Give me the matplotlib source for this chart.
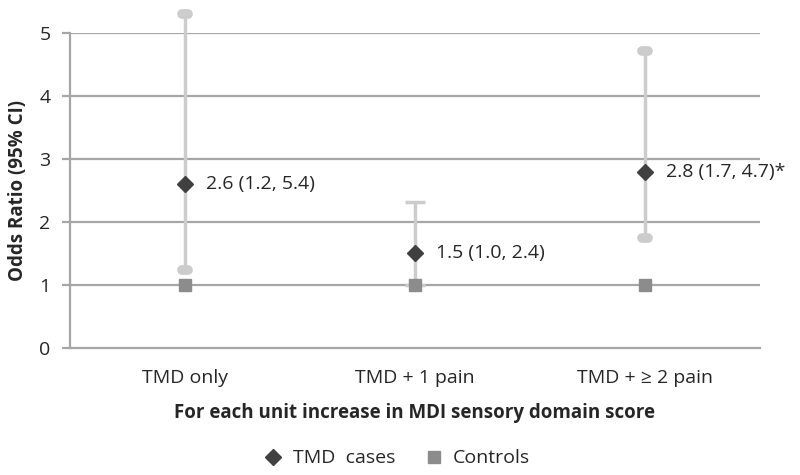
import matplotlib
matplotlib.use("Agg")
import matplotlib.pyplot as plt
from matplotlib.lines import Line2D

plt.rcParams['font.family'] = ['Open Sans', 'DejaVu Sans']

categories = ["TMD only", "TMD + 1 pain", "TMD + \u2265 2 pain"]
or_cases = [2.6, 1.5, 2.8]
ci_low = [1.24, 1.0, 1.75]
ci_high = [5.3, 2.32, 4.71]
or_controls = [1.0, 1.0, 1.0]
point_labels = ["2.6 (1.2, 5.4)", "1.5 (1.0, 2.4)", "2.8 (1.7, 4.7)*"]
rounded_caps = [True, False, True]
yticks = [0, 1, 2, 3, 4, 5]

text_col = "#262626"
grid_col = "#a6a6a6"
err_col = "#cccccc"

fig = plt.figure(figsize=(8, 4.75), dpi=100)
ax = fig.add_axes([0.0875, 0.2674, 0.8625, 0.6631])

x = list(range(len(categories)))
ax.set_xlim(-0.5, len(categories) - 0.5)
ax.set_ylim(0, 5)

for yv in yticks[1:]:
    ax.axhline(yv, color=grid_col, lw=1.6, zorder=1)

for i in x:
    ax.vlines(i, ci_low[i], ci_high[i], color=err_col, lw=2.5, zorder=2, clip_on=False)
    w = 0.03 if rounded_caps[i] else 0.045
    for yv in (ci_low[i], ci_high[i]):
        if rounded_caps[i]:
            lc = ax.hlines(yv, i - w / 2, i + w / 2, color=err_col, lw=7, zorder=2, clip_on=False)
            lc.set_capstyle('round')
        else:
            ax.hlines(yv, i - w, i + w, color=err_col, lw=2.5, zorder=2, clip_on=False)

ax.plot(x, or_controls, linestyle='none', marker='s', ms=9, color='#8c8c8c', zorder=3, clip_on=False)
ax.plot(x, or_cases, linestyle='none', marker='D', ms=8, color='#404040', zorder=4)

for i in x:
    ax.annotate(point_labels[i], (i, or_cases[i]), xytext=(15, 0), textcoords='offset points',
                va='center', ha='left', fontsize=14, color=text_col)

ax.set_yticks(yticks)
ax.set_yticklabels([str(v) for v in yticks], fontsize=14, color=text_col)
ax.set_xticks(x)
ax.set_xticklabels(categories, fontsize=14, color=text_col)
ax.tick_params(axis='y', length=6, width=1.6, color=grid_col, pad=8)
ax.tick_params(axis='x', length=0, pad=15)

for s in ['top', 'right']:
    ax.spines[s].set_visible(False)
for s in ['left', 'bottom']:
    ax.spines[s].set_color(grid_col)
    ax.spines[s].set_linewidth(1.6)

ax.set_ylabel("Odds Ratio (95% CI)", fontsize=13.5, fontweight='bold', color=text_col, labelpad=8)
ax.set_xlabel("For each unit increase in MDI sensory domain score", fontsize=13.5,
              fontweight='bold', color=text_col, labelpad=12)

handles = [Line2D([], [], linestyle='none', marker='D', ms=8, color='#404040', label='TMD  cases'),
           Line2D([], [], linestyle='none', marker='s', ms=8, color='#8c8c8c', label='Controls')]
fig.legend(handles=handles, loc='center', bbox_to_anchor=(0.49, 0.035), ncol=2, frameon=False,
           fontsize=14, handletextpad=0.0, columnspacing=1.0, labelcolor=text_col)

fig.savefig("out.png", dpi=100)
